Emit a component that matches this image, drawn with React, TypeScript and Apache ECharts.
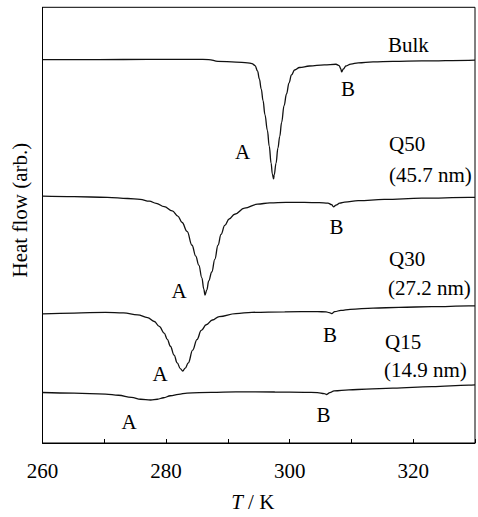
import React, { useEffect, useRef } from 'react';
import * as echarts from 'echarts';

// Temperature (K) and heat flow (arb. units)
const bulkT = [260.0, 269.1, 277.0, 285.0, 286.9, 288.4, 291.3, 293.2, 293.9, 294.4, 294.8, 295.1, 295.4, 295.7, 296.0, 296.4, 296.7, 297.0, 297.2, 297.4, 297.5, 297.8, 298.1, 298.4, 298.7, 299.1, 299.5, 299.9, 300.3, 300.8, 301.6, 303.2, 305.6, 307.5, 308.0, 308.3, 308.4, 308.7, 309.1, 309.9, 311.1, 313.5, 316.7, 321.4, 329.0, 330.0];
const bulkH = [38.72, 38.72, 38.74, 38.75, 38.72, 38.54, 38.47, 38.39, 38.32, 38.12, 37.57, 36.77, 35.77, 34.57, 33.17, 31.57, 29.97, 28.27, 27.17, 26.67, 27.07, 28.27, 29.77, 30.97, 32.37, 34.07, 35.27, 36.37, 37.17, 37.67, 37.92, 38.07, 38.19, 38.25, 38.12, 37.77, 37.47, 37.77, 38.07, 38.27, 38.39, 38.49, 38.54, 38.59, 38.65, 38.66];

const q50T = [260.0, 265.1, 270.5, 273.8, 275.8, 277.3, 278.4, 279.7, 281.0, 281.9, 282.6, 283.4, 284.2, 284.8, 285.3, 285.8, 286.1, 286.3, 286.6, 286.9, 287.4, 287.9, 288.4, 288.9, 289.5, 290.2, 291.1, 292.7, 294.8, 296.8, 299.4, 302.4, 304.8, 306.2, 306.8, 307.1, 307.5, 308.1, 308.9, 311.1, 315.3, 321.4, 329.0, 330.0];
const q50H = [24.94, 24.89, 24.80, 24.69, 24.60, 24.42, 24.20, 23.87, 23.44, 22.92, 22.27, 21.37, 19.97, 18.87, 17.97, 16.67, 15.57, 14.94, 15.47, 16.37, 17.27, 18.57, 19.97, 21.07, 21.97, 22.62, 23.10, 23.72, 24.12, 24.25, 24.29, 24.29, 24.27, 24.22, 24.07, 23.85, 24.02, 24.22, 24.32, 24.47, 24.60, 24.72, 24.80, 24.81];

const q30T = [260.0, 265.1, 270.2, 273.1, 275.4, 277.0, 278.1, 278.9, 279.7, 280.2, 280.7, 281.3, 281.8, 282.3, 282.7, 283.1, 283.6, 284.3, 285.0, 285.7, 286.5, 287.5, 288.6, 291.3, 293.9, 299.2, 304.5, 305.9, 306.4, 306.8, 307.3, 308.3, 309.8, 313.5, 317.7, 323.0, 329.0, 330.0];
const q30H = [13.04, 13.12, 13.20, 13.14, 12.94, 12.67, 12.27, 11.77, 11.10, 10.47, 9.77, 8.87, 8.10, 7.52, 7.27, 7.57, 8.10, 9.37, 10.44, 11.37, 11.94, 12.42, 12.77, 13.07, 13.20, 13.25, 13.27, 13.24, 13.17, 13.07, 13.27, 13.39, 13.50, 13.62, 13.70, 13.77, 13.84, 13.85];

const q15T = [260.0, 265.1, 270.2, 272.3, 274.4, 275.9, 277.5, 278.6, 279.6, 280.7, 282.0, 283.4, 287.3, 291.3, 297.6, 302.4, 304.5, 305.6, 306.0, 306.5, 307.2, 309.6, 312.4, 316.7, 323.0, 329.0, 330.0];
const q15H = [5.10, 5.04, 4.94, 4.82, 4.60, 4.42, 4.34, 4.42, 4.57, 4.77, 4.92, 5.04, 5.12, 5.17, 5.15, 5.12, 5.09, 4.99, 4.90, 5.09, 5.27, 5.37, 5.44, 5.54, 5.69, 5.84, 5.86];

const xLabels = [260, 280, 300, 320];
const seriesNames = ['Bulk', 'Q50', 'Q30', 'Q15'];
const sizeNotes = ['(45.7 nm)', '(27.2 nm)', '(14.9 nm)'];

const FONT_FAMILY = "'Liberation Serif', 'Times New Roman', Times, serif";
const FS = 21;

const zip = (t: number[], h: number[]) => t.map((v, i) => [v, h[i]]);

const txt = (text: string, x: number, y: number, align: string = 'center') => ({
  type: 'text',
  x,
  y,
  z: 100,
  style: {
    text,
    fontFamily: FONT_FAMILY,
    fontSize: FS,
    fill: '#000',
    align,
    verticalAlign: 'middle',
  },
});

export default function App() {
  const ref = useRef<HTMLDivElement>(null);
  useEffect(() => {
    if (!ref.current) return;
    const chart = echarts.init(ref.current, null, { renderer: 'svg' });
    const lineSeries = (name: string, t: number[], h: number[]) => ({
      name,
      type: 'line',
      data: zip(t, h),
      showSymbol: false,
      smooth: 0.4,
      smoothMonotone: 'x',
      lineStyle: { color: '#111', width: 1.3 },
      emphasis: { disabled: true },
    });
    chart.setOption({
      animation: false,
      backgroundColor: '#fff',
      textStyle: { fontFamily: FONT_FAMILY },
      grid: {
        left: 42.5,
        right: -5.5,
        top: 7.3,
        bottom: 69.3,
        show: true,
        borderColor: '#000',
        borderWidth: 1,
        backgroundColor: 'transparent',
      },
      xAxis: {
        type: 'value',
        min: 260,
        max: 330,
        interval: 10,
        name: '{i|T} / K',
        nameLocation: 'middle',
        nameGap: 48,
        nameTextStyle: {
          fontFamily: FONT_FAMILY,
          fontSize: FS,
          color: '#000',
          padding: [0, 12, 0, 0],
          rich: {
            i: { fontFamily: FONT_FAMILY, fontSize: FS, fontStyle: 'italic', color: '#000' },
          },
        },
        axisLine: { show: true, lineStyle: { color: '#000', width: 1 } },
        axisTick: { show: true, inside: true, length: 4, lineStyle: { color: '#000', width: 1 } },
        axisLabel: {
          margin: 17,
          fontFamily: FONT_FAMILY,
          fontSize: FS,
          color: '#000',
          formatter: (v: number) => (xLabels.includes(v) ? String(v) : ''),
        },
        splitLine: { show: false },
      },
      yAxis: {
        type: 'value',
        min: 0,
        max: 44,
        name: 'Heat flow (arb.)',
        nameLocation: 'middle',
        nameGap: 12,
        nameTextStyle: {
          fontFamily: FONT_FAMILY,
          fontSize: FS,
          color: '#000',
          padding: [0, 0, 0, 30],
        },
        axisLine: { show: true, lineStyle: { color: '#000', width: 1 } },
        axisTick: { show: false },
        axisLabel: { show: false },
        splitLine: { show: false },
      },
      series: [
        lineSeries(seriesNames[0], bulkT, bulkH),
        lineSeries(seriesNames[1], q50T, q50H),
        lineSeries(seriesNames[2], q30T, q30H),
        lineSeries(seriesNames[3], q15T, q15H),
      ],
      graphic: [
        txt(seriesNames[0], 388, 45, 'left'),
        txt('A', 242.5, 152),
        txt('B', 348, 89),
        txt(seriesNames[1], 389, 144, 'left'),
        txt(sizeNotes[0], 389, 175, 'left'),
        txt('A', 179, 291),
        txt('B', 336.5, 227),
        txt(seriesNames[2], 389, 259, 'left'),
        txt(sizeNotes[1], 388, 288, 'left'),
        txt('A', 160, 374),
        txt('B', 330, 335),
        txt(seriesNames[3], 385, 342, 'left'),
        txt(sizeNotes[2], 384, 370, 'left'),
        txt('A', 129, 422),
        txt('B', 323.5, 415),
      ],
    });
    return () => chart.dispose();
  }, []);
  return (
    <div
      ref={ref}
      style={{ position: 'fixed', left: 0, top: 0, width: 478, height: 517, background: '#fff' }}
    />
  );
}
